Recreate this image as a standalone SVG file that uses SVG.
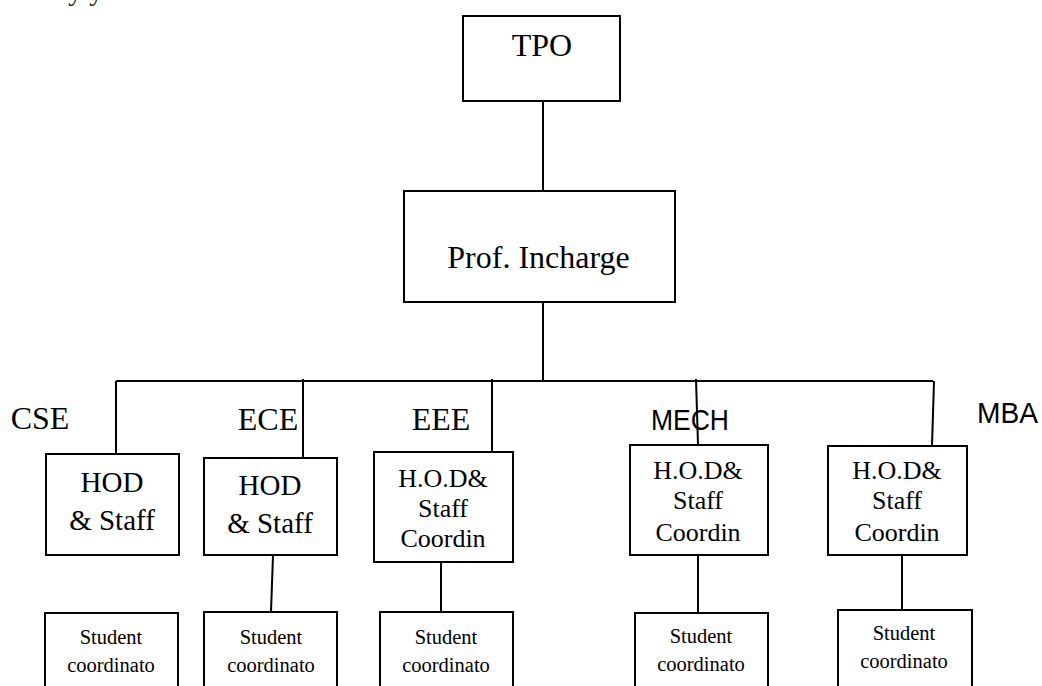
<svg xmlns="http://www.w3.org/2000/svg" width="1042" height="686" viewBox="0 0 1042 686">
<style>
.box{fill:#fff;stroke:#000;stroke-width:2}
.ln{stroke:#000;stroke-width:2;fill:none}
.s{font-family:"Liberation Serif","Times New Roman",serif;fill:#000;text-anchor:middle}
.ss{font-family:"Liberation Sans",Arial,sans-serif;fill:#000}
.t32{font-size:32px}
.t28{font-size:29px}
.t26{font-size:26px}
.t20{font-size:20.5px}
</style>
<rect width="1042" height="686" fill="#fff"/>
<text x="20" y="0" font-family="Liberation Serif, serif" font-size="28" fill="#222">every year:</text>
<g id="connectors">
<line class="ln" x1="543" y1="101" x2="543" y2="191"/>
<line class="ln" x1="543" y1="302" x2="543" y2="381"/>
<line class="ln" x1="116" y1="381" x2="933" y2="381"/>
<line class="ln" x1="116" y1="381" x2="116" y2="454"/>
<line class="ln" x1="303" y1="379" x2="303" y2="458"/>
<line class="ln" x1="492" y1="379" x2="492" y2="452"/>
<line class="ln" x1="696" y1="379" x2="698" y2="445"/>
<line class="ln" x1="934" y1="381" x2="932" y2="446"/>
<line class="ln" x1="273" y1="555" x2="271" y2="612"/>
<line class="ln" x1="441" y1="562" x2="441" y2="612"/>
<line class="ln" x1="698" y1="555" x2="698" y2="613"/>
<line class="ln" x1="902" y1="555" x2="902" y2="610"/>
</g>
<g id="tpo">
<rect class="box" x="463" y="16" width="157" height="85"/>
<text class="s t32" x="542" y="56">TPO</text>
</g>
<g id="prof">
<rect class="box" x="404" y="191" width="271" height="111"/>
<text class="s t32" x="538.5" y="268">Prof. Incharge</text>
</g>
<g id="labels">
<text class="s t32" x="40" y="429">CSE</text>
<text class="s t32" x="268" y="430">ECE</text>
<text class="s t32" x="441" y="430">EEE</text>
<text class="ss" x="651" y="430" font-size="30" textLength="78" lengthAdjust="spacingAndGlyphs">MECH</text>
<text class="ss" x="977" y="423" font-size="29" textLength="61" lengthAdjust="spacingAndGlyphs">MBA</text>
</g>
<g id="hod-cse">
<rect class="box" x="46" y="454" width="133" height="101"/>
<text class="s t28" x="112" y="492">HOD</text>
<text class="s t28" x="112" y="530">&amp; Staff</text>
</g>
<g id="hod-ece">
<rect class="box" x="204" y="458" width="133" height="97"/>
<text class="s t28" x="270" y="495">HOD</text>
<text class="s t28" x="270" y="533">&amp; Staff</text>
</g>
<g id="hod-eee">
<rect class="box" x="374" y="452" width="139" height="110"/>
<text class="s t26" x="443" y="487">H.O.D&amp;</text>
<text class="s t26" x="443" y="517">Staff</text>
<text class="s t26" x="443" y="547">Coordin</text>
</g>
<g id="hod-mech">
<rect class="box" x="630" y="445" width="138" height="110"/>
<text class="s t26" x="698" y="479">H.O.D&amp;</text>
<text class="s t26" x="698" y="509">Staff</text>
<text class="s t26" x="698" y="541">Coordin</text>
</g>
<g id="hod-mba">
<rect class="box" x="828" y="446" width="139" height="109"/>
<text class="s t26" x="897" y="479">H.O.D&amp;</text>
<text class="s t26" x="897" y="509">Staff</text>
<text class="s t26" x="897" y="541">Coordin</text>
</g>
<g id="stu-cse">
<rect class="box" x="45" y="613" width="133" height="100"/>
<text class="s t20" x="111" y="644">Student</text>
<text class="s t20" x="111" y="672">coordinato</text>
</g>
<g id="stu-ece">
<rect class="box" x="204" y="612" width="133" height="100"/>
<text class="s t20" x="271" y="644">Student</text>
<text class="s t20" x="271" y="672">coordinato</text>
</g>
<g id="stu-eee">
<rect class="box" x="380" y="612" width="133" height="100"/>
<text class="s t20" x="446" y="644">Student</text>
<text class="s t20" x="446" y="672">coordinato</text>
</g>
<g id="stu-mech">
<rect class="box" x="635" y="613" width="133" height="100"/>
<text class="s t20" x="701" y="643">Student</text>
<text class="s t20" x="701" y="671">coordinato</text>
</g>
<g id="stu-mba">
<rect class="box" x="838" y="610" width="134" height="100"/>
<text class="s t20" x="904" y="640">Student</text>
<text class="s t20" x="904" y="668">coordinato</text>
</g>
</svg>
